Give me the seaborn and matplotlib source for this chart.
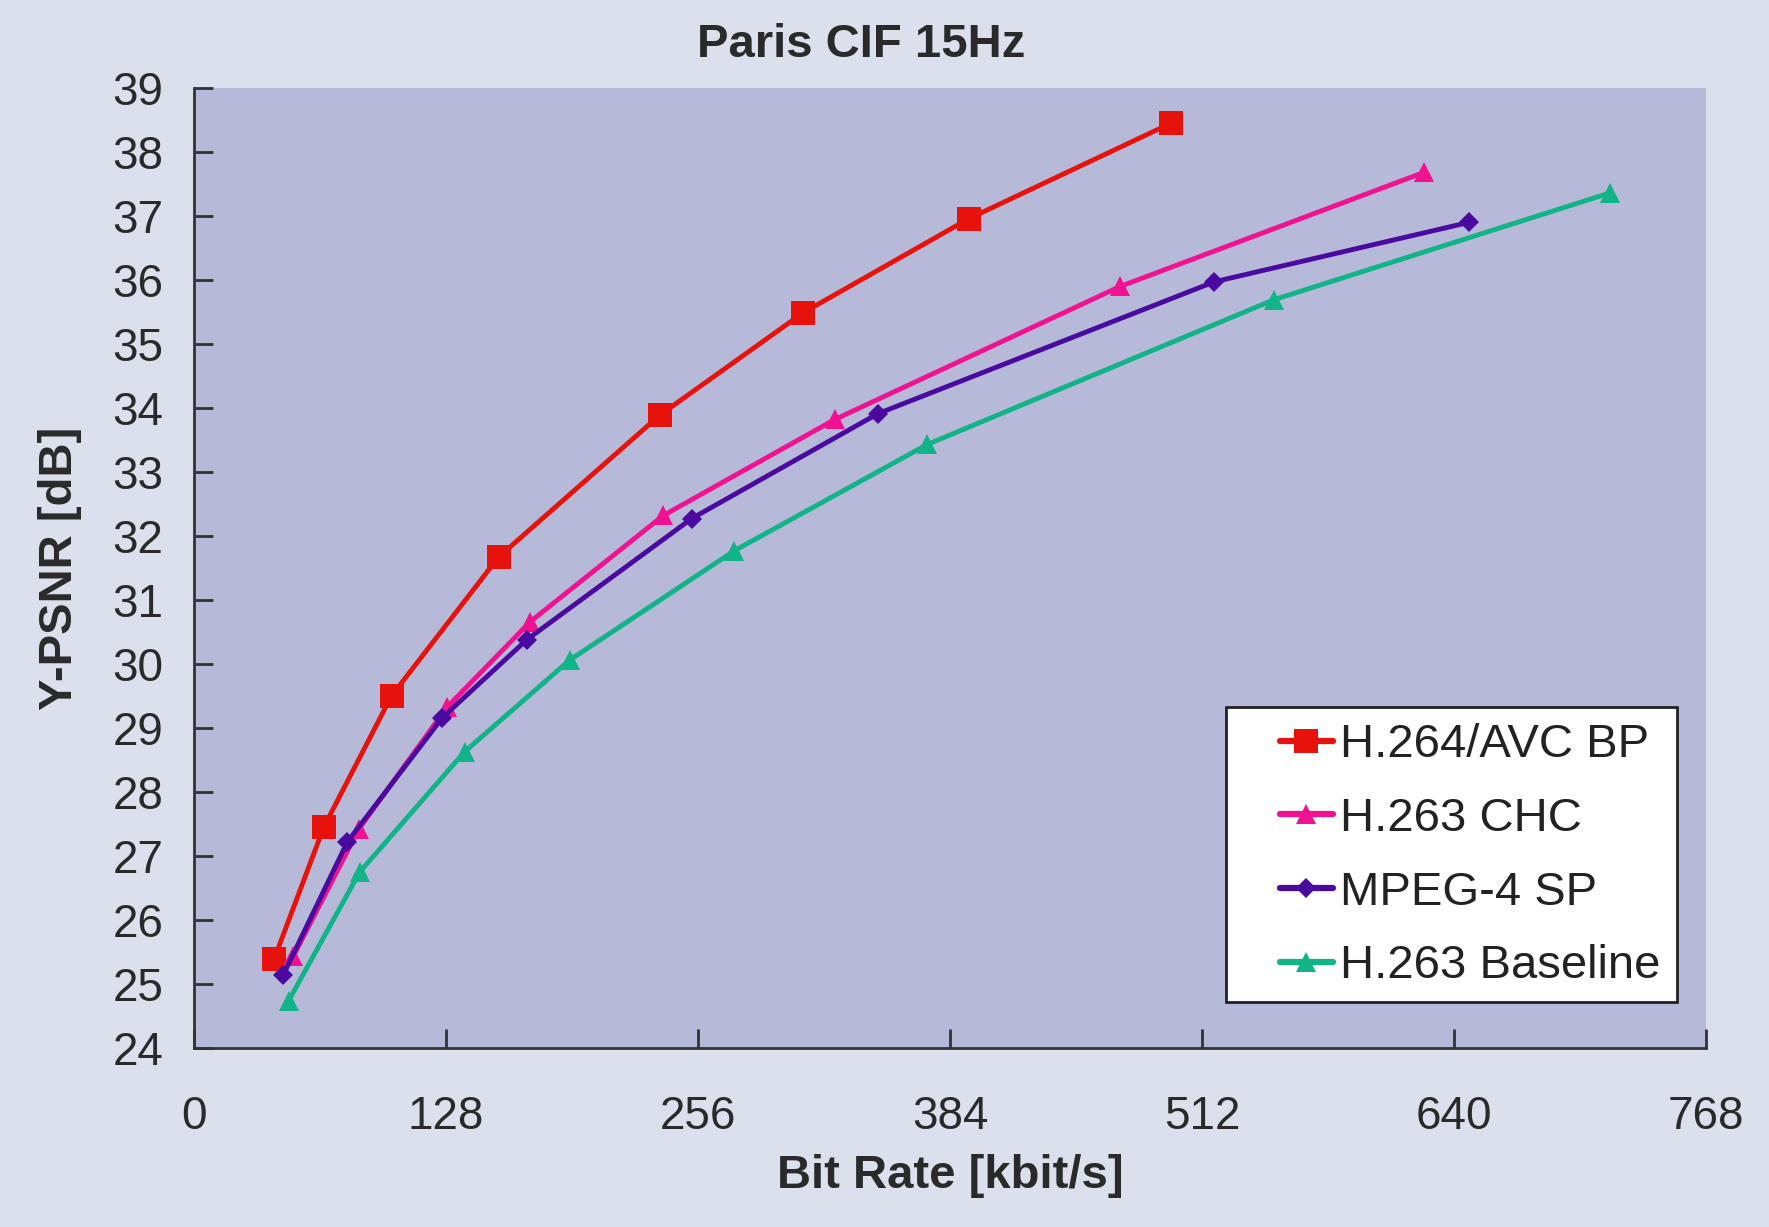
import numpy as np
from matplotlib import pyplot as plt
from matplotlib.patches import Rectangle
import seaborn as sns
import pandas as pd

# values
codecs = ['H.264/AVC BP', 'H.263 CHC', 'MPEG-4 SP', 'H.263 Baseline']

rate_avc = [40.7, 65.9, 100.3, 154.7, 236.7, 309.5, 393.7, 496.3]
psnr_avc = [25.39, 27.45, 29.50, 31.67, 33.89, 35.49, 36.96, 38.45]

rate_chc = [50.4, 83.7, 128.4, 170.8, 238.4, 325.5, 470.5, 624.6]
psnr_chc = [25.43, 27.42, 29.32, 30.66, 32.32, 33.82, 35.90, 37.68]

rate_mp4 = [45.3, 77.9, 126.1, 169.1, 252.7, 347.3, 518.1, 647.6]
psnr_mp4 = [25.14, 27.22, 29.16, 30.38, 32.27, 33.91, 35.97, 36.90]

rate_base = [48.1, 84.2, 137.5, 190.8, 274.5, 372.5, 548.4, 719.2]
psnr_base = [24.74, 26.75, 28.63, 30.06, 31.77, 33.43, 35.69, 37.36]

x_ticks = [0, 128, 256, 384, 512, 640, 768]
y_ticks = list(range(24, 40))

data = pd.concat([
    pd.DataFrame({'rate': rate_avc, 'psnr': psnr_avc, 'codec': codecs[0]}),
    pd.DataFrame({'rate': rate_chc, 'psnr': psnr_chc, 'codec': codecs[1]}),
    pd.DataFrame({'rate': rate_mp4, 'psnr': psnr_mp4, 'codec': codecs[2]}),
    pd.DataFrame({'rate': rate_base, 'psnr': psnr_base, 'codec': codecs[3]}),
])

colors = {codecs[0]: '#E8120C', codecs[1]: '#F01290', codecs[2]: '#4A0AA0', codecs[3]: '#10B486'}
markers = {codecs[0]: 's', codecs[1]: '^', codecs[2]: 'D', codecs[3]: '^'}
msizes = {codecs[0]: 17, codecs[1]: 15, codecs[2]: 10, codecs[3]: 15}

sns.set_style('ticks')
plt.rcParams['font.family'] = ['Liberation Sans', 'DejaVu Sans']

fig = plt.figure(figsize=(17.69, 12.27), dpi=100, facecolor='#DCE0EC')
ax = fig.add_axes([0.1097, 0.146, 0.8547, 0.7823])
ax.set_facecolor('#B6BAD8')

for c in codecs:
    sub = data[data['codec'] == c]
    sns.lineplot(data=sub, x='rate', y='psnr', ax=ax, color=colors[c], lw=3.5,
                 marker=markers[c], markersize=msizes[c], markeredgewidth=0,
                 sort=False, label=c)

ax.set_xlim(0, 768)
ax.set_ylim(24, 39)
ax.set_xticks(x_ticks)
ax.set_yticks(y_ticks)

for s in ['top', 'right']:
    ax.spines[s].set_visible(False)
for s in ['left', 'bottom']:
    ax.spines[s].set_color('#333333')
    ax.spines[s].set_linewidth(2)

ax.tick_params(axis='both', direction='in', length=14, width=2, color='#333333',
               labelsize=33, labelcolor='#2a2a2a')
ax.tick_params(axis='x', pad=34)
ax.tick_params(axis='y', pad=22)

ax.set_xlabel('Bit Rate [kbit/s]', fontsize=34, weight='bold', color='#2a2a2a', labelpad=11)
ax.set_ylabel('Y-PSNR [dB]', fontsize=34, weight='bold', color='#2a2a2a', labelpad=22)

fig.text(0.487, 0.963, 'Paris CIF 15Hz', fontsize=34, weight='bold', color='#2a2a2a',
         ha='center', va='center')

# legend frame drawn separately so the entries can sit with a wide left margin
ax.add_patch(Rectangle((0.693, 0.1834), 0.255, 0.2404, transform=fig.transFigure,
                       facecolor='white', edgecolor='#222222', lw=2, zorder=4, clip_on=False))
leg = ax.legend(loc='center left', bbox_to_anchor=(0.7236, 0.3026), bbox_transform=fig.transFigure,
                fontsize=34, frameon=False, handlelength=1.12, handletextpad=0.15,
                labelspacing=0.63, borderpad=0, borderaxespad=0)
leg.set_zorder(5)
for line in leg.get_lines():
    line.set_linewidth(4.5)
for t in leg.get_texts():
    t.set_color('#222222')

plt.savefig('out.png', dpi=100, facecolor=fig.get_facecolor())
